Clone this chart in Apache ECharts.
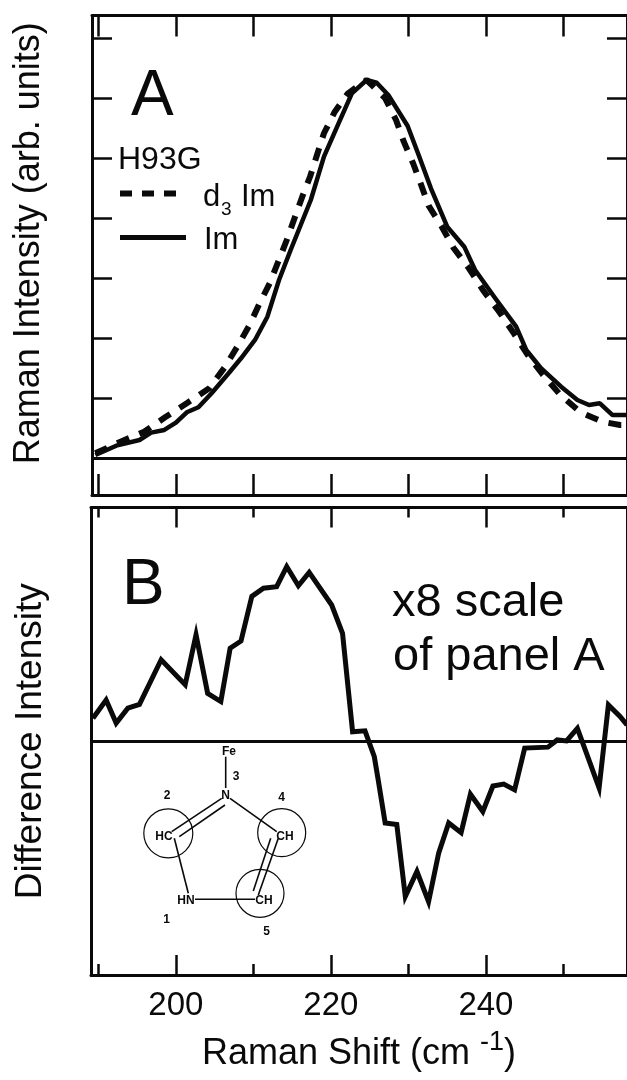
<!DOCTYPE html>
<html><head><meta charset="utf-8">
<script src="https://cdn.jsdelivr.net/npm/echarts@6/dist/echarts.min.js"></script>
<style>html,body{margin:0;padding:0;background:#fff;overflow:hidden}#c{width:627px;height:1080px}</style>
</head><body><div id="c"></div>
<script>
const imShift=[189.6,192.3,195.3,196.8,198.5,200.0,201.4,202.9,204.6,206.8,208.4,210.2,211.8,213.3,214.8,217.4,219.1,220.8,222.7,224.6,225.9,227.4,229.9,231.4,232.9,235.0,237.2,238.6,241.2,243.9,245.2,247.1,249.7,251.8,253.3,254.7,256.3,257.3,258.2];
const imValues=[5,20.5,30,42.2,46.7,58.8,76.2,84.5,107.8,141.2,166.2,196.7,235.5,296.7,346.7,430,502.2,552.2,607.8,630,625.5,605,553.3,502.2,449.5,385.5,352.2,313.3,266.2,218.8,180,149.5,118.8,96.7,88.3,91.2,71.7,71.7,71.7];
const d3Shift=[189.6,192.7,195.9,198.6,201.4,204.3,206.3,208.0,209.5,210.8,212.1,213.2,214.3,215.3,216.3,217.3,218.2,219.1,220.5,222.2,224.6,227.0,228.4,229.4,230.6,231.6,232.6,234.3,235.8,237.8,239.6,241.7,243.6,245.3,247.3,249.6,252.2,255.0,257.3,258.2];
const d3Values=[7.8,26.2,43.8,67.8,91.2,116.2,151.2,187.2,221.7,257.8,291.2,327.2,363.3,399.5,435.5,468.8,505,541.2,577.2,607.8,630,599.5,563.3,527.2,491.2,456.7,420.5,385.5,350.5,316.2,280,243.8,207.8,173.3,139.5,105,76.2,60.5,55,55];
const diffShift=[189.3,191.0,192.3,193.8,195.3,198.1,201.2,202.6,204.1,205.8,207.0,208.4,209.8,211.3,213.0,214.3,215.8,217.2,220.1,221.5,222.8,224.4,225.6,226.1,227.0,228.5,229.6,231.1,232.6,233.9,235.2,236.8,238.0,239.6,240.9,242.3,243.7,245.0,248.0,249.2,250.4,251.8,254.6,255.8,257.3,258.2];
const diffValues=[4.7,8.5,3.7,6.8,7.6,16.9,11.7,22.1,9.9,8.2,19.3,20.8,30.1,31.8,32.1,36.3,32.3,35.1,28.3,22.4,1.9,2.1,-3.3,-8.1,-17.1,-17.4,-32.4,-27.2,-33.5,-23.4,-17.1,-19.1,-11.1,-14.7,-9.4,-9.0,-10.2,-1.5,-1.3,0.2,0,2.6,-9.8,7.5,5.1,3.3];
const xTicksAll=[190,200,210,220,230,240,250];
const xTicksMajor=[200,220,240];
const xTicksMinor=[190,210,230,250];
const yTicksA=[100,200,300,400,500,600,700];

const FONT='"Liberation Sans", Arial, sans-serif', INK='#0a0a0a';
const pairs=(xs,ys)=>xs.map((x,i)=>[x,ys[i]]);
const axLine={show:true,onZero:false,lineStyle:{color:INK,width:3}};
const base={type:'value',splitLine:{show:false},axisLine:axLine,axisLabel:{show:false}};
function xAx(gi,pos,min,max,ticks,len,extra){
  return Object.assign({},base,{gridIndex:gi,position:pos,min,max,
    axisTick:{show:true,inside:true,length:len,customValues:ticks,lineStyle:{color:INK,width:2.5}}},extra||{});
}
function yAx(gi,pos,min,max,ticks,extra){
  return Object.assign({},base,{gridIndex:gi,position:pos,min,max,
    axisTick:ticks?{show:true,inside:true,length:20,customValues:ticks,lineStyle:{color:INK,width:2.5}}:{show:false}},extra||{});
}
const xA=[189.17,258.2], xB=[189.05,258.2], yA=[-61.7,737.5], yB=[-48.75,48.6];
const hidden={show:false,onZero:false};
const nameStyle={fontFamily:FONT,fontSize:36,color:INK};

const option={
  animation:false,backgroundColor:'#fff',
  grid:[{left:92,top:15.5,width:542,height:479.5},{left:91,top:507.5,width:543,height:467.5}],
  xAxis:[
    xAx(0,'bottom',xA[0],xA[1],xTicksAll,21),
    xAx(0,'top',xA[0],xA[1],xTicksAll,21),
    xAx(1,'bottom',xB[0],xB[1],xTicksMajor,20,{
      axisLabel:{show:true,customValues:xTicksMajor,margin:14,fontFamily:FONT,fontSize:33,color:INK},
      name:'Raman Shift (cm {sup|-1}{par|)}',nameLocation:'middle',nameGap:54,
      nameTextStyle:Object.assign({},nameStyle,{rich:{sup:{fontFamily:FONT,fontSize:27,color:INK,padding:[0,0,24,0]},par:{fontFamily:FONT,fontSize:36,color:INK}}})}),
    xAx(1,'bottom',xB[0],xB[1],xTicksMinor,11,{axisLine:hidden}),
    xAx(1,'top',xB[0],xB[1],xTicksMajor,20),
    xAx(1,'top',xB[0],xB[1],xTicksMinor,10,{axisLine:hidden})
  ],
  yAxis:[
    yAx(0,'left',yA[0],yA[1],yTicksA,{name:'Raman Intensity (arb. units)',nameLocation:'middle',nameRotate:90,nameGap:45,nameTextStyle:Object.assign({padding:[0,0,0,24]},nameStyle)}),
    yAx(0,'right',yA[0],yA[1],yTicksA),
    yAx(1,'left',yB[0],yB[1],null,{name:'Difference Intensity',nameLocation:'middle',nameRotate:90,nameGap:42,nameTextStyle:Object.assign({},nameStyle,{fontSize:37})}),
    yAx(1,'right',yB[0],yB[1],null)
  ],
  series:[
    {name:'d3 Im',type:'line',xAxisIndex:0,yAxisIndex:0,data:pairs(d3Shift,d3Values),showSymbol:false,
      lineStyle:{color:INK,width:6,type:[13,11]},
      markLine:{silent:true,symbol:'none',label:{show:false},lineStyle:{color:INK,width:3,type:'solid'},data:[{yAxis:0}]}},
    {name:'Im',type:'line',xAxisIndex:0,yAxisIndex:0,data:pairs(imShift,imValues),showSymbol:false,
      lineStyle:{color:INK,width:4.5}},
    {name:'Difference',type:'line',xAxisIndex:2,yAxisIndex:2,data:pairs(diffShift,diffValues),showSymbol:false,
      lineStyle:{color:INK,width:5,join:'miter',miterLimit:8},
      markLine:{silent:true,symbol:'none',label:{show:false},lineStyle:{color:INK,width:3,type:'solid'},data:[{yAxis:0}]}}
  ],
  graphic:[]
};

const g=option.graphic;
function txt(x,base,text,size,extra){
  g.push({type:'text',x,y:base-0.31*size,silent:true,style:Object.assign({text,fontFamily:FONT,fontSize:size,fill:INK,verticalAlign:'middle'},extra||{})});
}
function ln(x1,y1,x2,y2,w,dash){
  g.push({type:'line',silent:true,shape:{x1,y1,x2,y2},style:{stroke:INK,lineWidth:w,lineDash:dash||null}});
}
function circ(cx,cy,r){
  g.push({type:'circle',silent:true,shape:{cx,cy,r},style:{fill:null,stroke:INK,lineWidth:1.2}});
}
txt(131,117,'A',64); txt(122,606,'B',64);
txt(118,170,'H93G',32);
txt(203,207,'d',31); txt(221,216,'3',19); txt(241,207,'Im',31);
txt(204,250,'Im',31);
ln(120,193.5,176,193.5,6,[12,10]);
ln(120,237.5,186,237.5,5);
txt(392,618,'x8 scale',47);
txt(393,672,'of panel A',47);
// imidazole sketch
[[225.7,756.7,225.7,788],[221.7,798.3,171.7,831.7],[225,805,179.3,836.7],[230,798.3,276.7,831.7],[278.3,838.3,258.3,895],[270.7,838.3,253.3,891],[174.3,838.3,188.3,893.3],[195,899.3,255,899.3]]
  .forEach(s=>ln(s[0],s[1],s[2],s[3],1.6));
[[168.3,833.3,24.5],[281.7,832.7,24],[260,893.3,24]].forEach(c=>circ(c[0],c[1],c[2]));
const mid={align:'center',fontWeight:'bold'};
[[229,755,'Fe'],[236,780,'3'],[225.7,799,'N'],[167,799,'2'],[281.7,801,'4'],[164,840,'HC'],[285,840,'CH'],[264,904,'CH'],[186,904,'HN'],[166.7,923,'1'],[266.7,935,'5']]
  .forEach(t=>txt(t[0],t[1],t[2],12,mid));

echarts.init(document.getElementById('c'),null,{renderer:'canvas'}).setOption(option);
</script></body></html>
